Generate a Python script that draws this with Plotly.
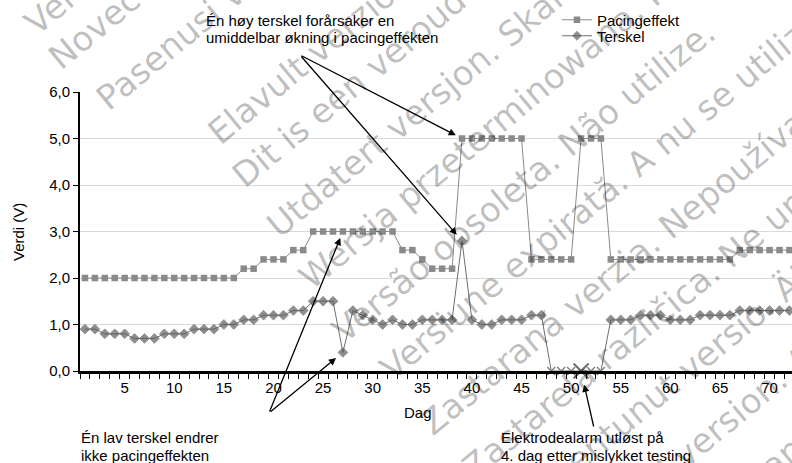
import math
import plotly.graph_objects as go

# ---------------- data ----------------
days = list(range(1, 73))
pacing = [2.0]*16 + [2.2]*2 + [2.4]*3 + [2.6]*2 + [3.0]*9 + [2.6]*2 + [2.4] + [2.2]*3 \
    + [5.0]*7 + [2.4]*5 + [5.0]*3 + [2.4]*13 + [2.6]*6
terskel = [0.9, 0.9, 0.8, 0.8, 0.8, 0.7, 0.7, 0.7, 0.8, 0.8, 0.8, 0.9, 0.9, 0.9, 1.0, 1.0,
           1.1, 1.1, 1.2, 1.2, 1.2, 1.3, 1.3, 1.5, 1.5, 1.5, 0.4, 1.3, 1.2, 1.1, 1.0, 1.1,
           1.0, 1.0, 1.1, 1.1, 1.1, 1.1, 2.8, 1.1, 1.0, 1.0, 1.1, 1.1, 1.1, 1.2, 1.2,
           0.0, 0.0, 0.0, 0.0, 0.0, 0.0,
           1.1, 1.1, 1.1, 1.2, 1.2, 1.2, 1.1, 1.1, 1.1, 1.2, 1.2, 1.2, 1.2,
           1.3, 1.3, 1.3, 1.3, 1.3, 1.3]
alarm_days = [51]
alarm_values = [0.0]
x_tick_vals = [5, 10, 15, 20, 25, 30, 35, 40, 45, 50, 55, 60, 65, 70]

watermark = [
    ("Versione obsoleta. Non utilizzare.", 38, 38),
    ("Novecojusi versija. Neizmantot.", 62, 72),
    ("Pasenusi versija. Nenaudokite.", 110, 113),
    ("Elavult verzió. Ne használja!", 222, 147),
    ("Dit is een verouderde versie. Niet gebruiken.", 246, 190),
    ("Utdatert versjon. Skal ikke brukes.", 280, 240),
    ("Wersja przeterminowana. Nie używać.", 313, 292),
    ("Versão obsoleta. Não utilize.", 346, 345),
    ("Versiune expirată. A nu se utiliza.", 394, 383),
    ("Zastaraná verzia. Nepoužívať.", 434, 438),
    ("Zastarela različica. Ne uporabite.", 476, 482),
    ("Vanhentunut versio. Älä käytä.", 514, 530),
    ("Föråldrad version. Använd ej.", 554, 580),
    ("Güncel olmayan sürüm. Kullanmayın.", 594, 630),
]

# ---------------- geometry ----------------
W, H = 792, 463
ML, MR, MT, MB = 80, 0, 92, 92
XR = [0.5, 72.26]
YR = [0, 6]
PW = W - ML - MR
PH = H - MT - MB


def px(d):
    return ML + (d - XR[0]) / (XR[1] - XR[0]) * PW


def py(v):
    return MT + PH - (v - YR[0]) / (YR[1] - YR[0]) * PH


def paper_x(p):
    return (p - ML) / PW


def paper_y(p):
    return (MT + PH - p) / PH


fig = go.Figure()

fig.add_trace(go.Scatter(
    x=days, y=pacing, name="Pacingeffekt", mode="lines+markers", legend="legend",
    line=dict(color="#8a8a8a", width=1),
    marker=dict(symbol="square", size=6.5, color="#8a8a8a"),
))

msize = [0 if v == 0 else 7.5 for v in terskel]
fig.add_trace(go.Scatter(
    x=days, y=terskel, name="Terskel", mode="lines+markers", cliponaxis=False,
    legend="legend2",
    line=dict(color="#6e6e6e", width=1),
    marker=dict(symbol="diamond", size=msize, color="#5f5f5f"),
))

zero_days = [d for d, v in zip(days, terskel) if v == 0]
zero_vals = [v for v in terskel if v == 0]
fig.add_trace(go.Scatter(
    x=zero_days, y=zero_vals, mode="markers", showlegend=False, cliponaxis=False,
    marker=dict(symbol="x-thin", size=8, color="#7a7a7a",
                line=dict(color="#7a7a7a", width=1.3)),
))

fig.add_trace(go.Scatter(
    x=alarm_days, y=alarm_values, mode="markers", showlegend=False, cliponaxis=False,
    marker=dict(symbol="x-thin", size=15, color="#707070",
                line=dict(color="#707070", width=2)),
))

annotations = []


def arrow(tail, d, v, standoff):
    hx, hy = px(d), py(v)
    annotations.append(dict(
        x=d, y=v, xref="x", yref="y", text="", showarrow=True,
        ax=tail[0] - hx, ay=tail[1] - hy, axref="pixel", ayref="pixel",
        arrowhead=2, arrowsize=1.1, arrowwidth=1.3, arrowcolor="black",
        standoff=standoff,
    ))


i39 = days.index(39)
i27 = days.index(27)
arrow((300, 55), days[i39], pacing[i39], 7)
arrow((300, 55), days[i39], terskel[i39], 8)
arrow((269, 413), days[i27], pacing[i27], 7)
arrow((269, 413), days[i27], terskel[i27], 9)
arrow((594, 428), alarm_days[0], alarm_values[0], 14)


def label(text, x, y):
    annotations.append(dict(
        x=paper_x(x), y=paper_y(y), xref="paper", yref="paper",
        xanchor="left", yanchor="middle", align="left", showarrow=False,
        text=text, font=dict(size=15),
    ))


label("Én høy terskel forårsaker en", 204, 20)
label("umiddelbar økning i pacingeffekten", 204, 37)
label("Én lav terskel endrer", 79, 437)
label("ikke pacingeffekten", 79, 455)
label("Elektrodealarm utløst på", 499, 437)
label("4. dag etter mislykket testing", 499, 455)

annotations.append(dict(x=paper_x(418), y=paper_y(412), xref="paper", yref="paper",
                        xanchor="center", yanchor="middle", showarrow=False,
                        text="Dag", font=dict(size=15)))
annotations.append(dict(x=paper_x(18), y=paper_y(232), xref="paper", yref="paper",
                        xanchor="center", yanchor="middle", showarrow=False,
                        text="Verdi (V)", textangle=-90, font=dict(size=15)))

# watermark
theta = 39.5
fs = 34
st, ct = math.sin(math.radians(theta)), math.cos(math.radians(theta))
for txt, sx, sy in watermark:
    bx = sx - 1.05 * fs * st
    by = sy + 0.25 * fs * ct
    annotations.append(dict(
        x=paper_x(bx), y=paper_y(by), xref="paper", yref="paper",
        xanchor="left", yanchor="bottom", showarrow=False, textangle=-theta,
        text=txt, borderpad=0,
        font=dict(family="DejaVu Sans", size=fs, color="rgba(0,0,0,0.26)"),
    ))

legend_common = dict(xanchor="left", yanchor="middle", bgcolor="rgba(0,0,0,0)",
                     font=dict(size=15), borderwidth=0)

fig.update_layout(
    width=W, height=H,
    margin=dict(l=ML, r=MR, t=MT, b=MB, pad=0),
    plot_bgcolor="white", paper_bgcolor="white",
    font=dict(family="Liberation Sans, Arial, sans-serif", size=14, color="black"),
    separators=", ",
    legend=dict(x=paper_x(557), y=paper_y(20), **legend_common),
    legend2=dict(x=paper_x(557), y=paper_y(36), **legend_common),
    annotations=annotations,
    xaxis=dict(
        range=XR, tickmode="array", tickvals=x_tick_vals,
        ticks="outside", ticklen=1, tickcolor="rgba(0,0,0,0)",
        minor=dict(ticks="outside", tick0=0.5, dtick=1, ticklen=5,
                   tickwidth=1, tickcolor="black", showgrid=False),
        showline=True, linecolor="black", linewidth=2.5,
        showgrid=False, zeroline=False, tickfont=dict(size=15),
    ),
    yaxis=dict(
        range=YR, dtick=1, tick0=0, tickformat=".1f",
        ticks="outside", ticklen=5, tickwidth=1, tickcolor="black",
        showline=True, linecolor="black", linewidth=2,
        showgrid=True, gridcolor="#d9d9d9", gridwidth=1, zeroline=False,
        tickfont=dict(size=15),
    ),
)

fig.write_html("out.html", config={"displayModeBar": False},
               post_script="document.body.style.margin='0';document.body.style.padding='0';")
